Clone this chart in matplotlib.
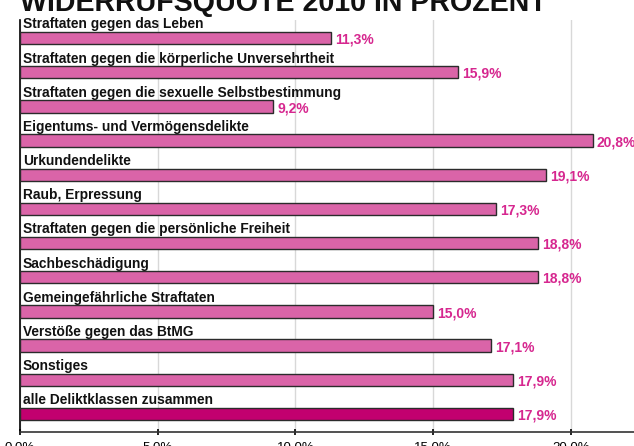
import numpy as np
import matplotlib.pyplot as plt

plt.rcParams['font.family'] = ['Liberation Sans', 'DejaVu Sans']

# Widerrufsquote 2010 je Deliktklasse (in Prozent)
categories = [
    "Straftaten gegen das Leben",
    "Straftaten gegen die körperliche Unversehrtheit",
    "Straftaten gegen die sexuelle Selbstbestimmung",
    "Eigentums- und Vermögensdelikte",
    "Urkundendelikte",
    "Raub, Erpressung",
    "Straftaten gegen die persönliche Freiheit",
    "Sachbeschädigung",
    "Gemeingefährliche Straftaten",
    "Verstöße gegen das BtMG",
    "Sonstiges",
    "alle Deliktklassen zusammen",
]
values = [11.3, 15.9, 9.2, 20.8, 19.1, 17.3, 18.8, 18.8, 15.0, 17.1, 17.9, 17.9]
xticks = [0, 5, 10, 15, 20]
xticklabels = ["0,0%", "5,0%", "10,0%", "15,0%", "20,0%"]

pink = "#DA64A8"
magenta = "#C2006F"
label_col = "#D6278F"

fig = plt.figure(figsize=(6.34, 4.46), dpi=100)
ax = fig.add_axes([20 / 634, 14 / 446, 1 - 20 / 634, 412 / 446])

y = np.arange(len(categories))
colors = [pink] * (len(categories) - 1) + [magenta]
ax.barh(y, values, height=0.36, color=colors, edgecolor="#2b2b2b", linewidth=1.0, zorder=3)

for yi, cat, v in zip(y, categories, values):
    ax.text(0.1, yi - 0.4, cat, fontsize=9.9, fontweight="bold", color="#111111",
            ha="left", va="center", zorder=4)
    ax.text(v + 0.15, yi + 0.05, f"{v:.1f}%".replace(".", ","), fontsize=10,
            fontweight="bold", color=label_col, ha="left", va="center", zorder=4)

ax.set_ylim(len(categories) - 0.47, -0.53)
ax.set_xlim(0, 22.3)
ax.set_xticks(xticks)
ax.set_xticklabels(xticklabels, fontsize=9.5)
ax.set_yticks([])
ax.xaxis.grid(True, color="#d8d8d8", linewidth=1.0, zorder=0)
ax.tick_params(axis="x", direction="inout", length=5, width=1.2, pad=4)
for s in ["top", "right"]:
    ax.spines[s].set_visible(False)
ax.spines["left"].set_linewidth(1.2)
ax.spines["bottom"].set_linewidth(1.2)
ax.spines["bottom"].set_color("#333333")

fig.text(20 / 634, 1 - 11 / 446, "WIDERRUFSQUOTE 2010 IN PROZENT", fontsize=20.6,
         fontweight="bold", color="#111111", ha="left", va="baseline")

fig.savefig("out.png", dpi=100)
